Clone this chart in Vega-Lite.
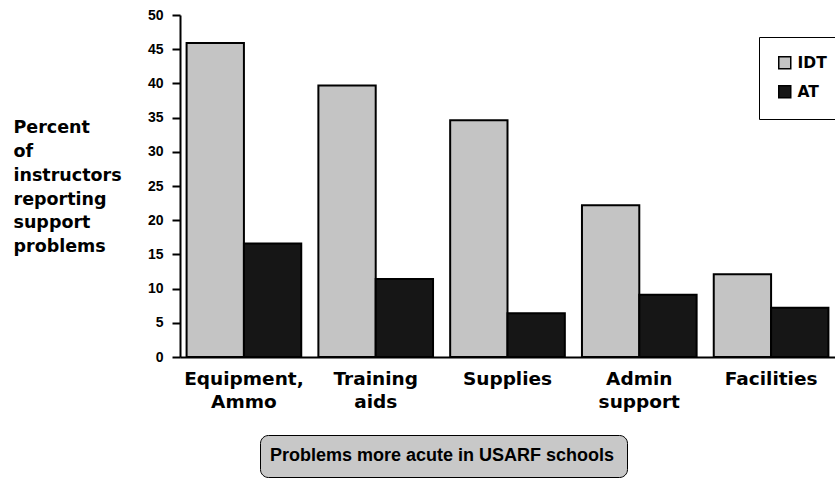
{
  "$schema": "https://vega.github.io/schema/vega-lite/v6.json",
  "width": 655,
  "height": 342,
  "autosize": {"type": "none"},
  "padding": {"left": 180, "top": 15, "right": 0, "bottom": 134},
  "background": "white",
  "config": {"view": {"stroke": null}, "font": "DejaVu Sans"},
  "data": {
    "values": [
      {"category": "Equipment, Ammo", "type": "IDT", "percent": 45.9},
      {"category": "Equipment, Ammo", "type": "AT", "percent": 16.6},
      {"category": "Training aids", "type": "IDT", "percent": 39.7},
      {"category": "Training aids", "type": "AT", "percent": 11.4},
      {"category": "Supplies", "type": "IDT", "percent": 34.6},
      {"category": "Supplies", "type": "AT", "percent": 6.4},
      {"category": "Admin support", "type": "IDT", "percent": 22.2},
      {"category": "Admin support", "type": "AT", "percent": 9.1},
      {"category": "Facilities", "type": "IDT", "percent": 12.1},
      {"category": "Facilities", "type": "AT", "percent": 7.2}
    ]
  },
  "layer": [
    {
      "mark": {"type": "bar", "stroke": "black", "strokeWidth": 2},
      "encoding": {
        "x": {
          "field": "category",
          "type": "nominal",
          "sort": null,
          "scale": {"paddingInner": 0.13, "paddingOuter": 0.05},
          "axis": {
            "title": null,
            "labelAngle": 0,
            "labelExpr": "split(datum.label, ' ')",
            "labelFont": "DejaVu Sans",
            "labelFontSize": 18.5,
            "labelFontWeight": "bold",
            "labelColor": "black",
            "labelLineHeight": 23,
            "labelPadding": 12,
            "labelBaseline": "top",
            "ticks": false,
            "domainColor": "black",
            "domainWidth": 2
          }
        },
        "xOffset": {"field": "type", "sort": ["IDT", "AT"]},
        "y": {
          "field": "percent",
          "type": "quantitative",
          "scale": {"domain": [0, 50]},
          "axis": {
            "values": [0, 5, 10, 15, 20, 25, 30, 35, 40, 45, 50],
            "grid": false,
            "domainColor": "black",
            "domainWidth": 2,
            "tickColor": "black",
            "tickWidth": 2,
            "tickSize": 8,
            "labelFont": "Liberation Sans",
            "labelFontSize": 14,
            "labelFontWeight": "bold",
            "labelColor": "black",
            "labelPadding": 9,
            "title": ["Percent", "of", "instructors", "reporting", "support", "problems"],
            "titleAngle": 0,
            "titleAlign": "left",
            "titleBaseline": "alphabetic",
            "titleX": -167,
            "titleY": 117.7,
            "titleFont": "DejaVu Sans",
            "titleFontSize": 17.5,
            "titleFontWeight": "bold",
            "titleColor": "black",
            "titleLineHeight": 23.8
          }
        },
        "color": {
          "field": "type",
          "type": "nominal",
          "scale": {"domain": ["IDT", "AT"], "range": ["#c4c4c4", "#161616"]},
          "legend": {
            "orient": "none",
            "legendX": 579,
            "legendY": 22,
            "title": null,
            "symbolType": "square",
            "symbolSize": 144,
            "symbolStrokeColor": "black",
            "symbolStrokeWidth": 1.5,
            "labelFont": "DejaVu Sans",
            "labelFontSize": 15.5,
            "labelFontWeight": "bold",
            "labelColor": "black",
            "labelOffset": 5,
            "strokeColor": "black",
            "padding": 18,
            "rowPadding": 10
          }
        }
      }
    },
    {
      "mark": {"type": "point", "opacity": 0},
      "encoding": {
        "shape": {
          "datum": "Problems more acute in USARF schools",
          "legend": {
            "orient": "none",
            "legendX": 80,
            "legendY": 420,
            "title": null,
            "symbolSize": 0,
            "symbolOpacity": 0,
            "symbolStrokeWidth": 0,
            "labelOffset": -20,
            "labelLimit": 600,
            "labelFont": "Liberation Sans",
            "labelFontSize": 18,
            "labelFontWeight": "bold",
            "labelColor": "black",
            "fillColor": "#c8c8c8",
            "strokeColor": "black",
            "cornerRadius": 8,
            "padding": 12
          }
        }
      }
    }
  ]
}
